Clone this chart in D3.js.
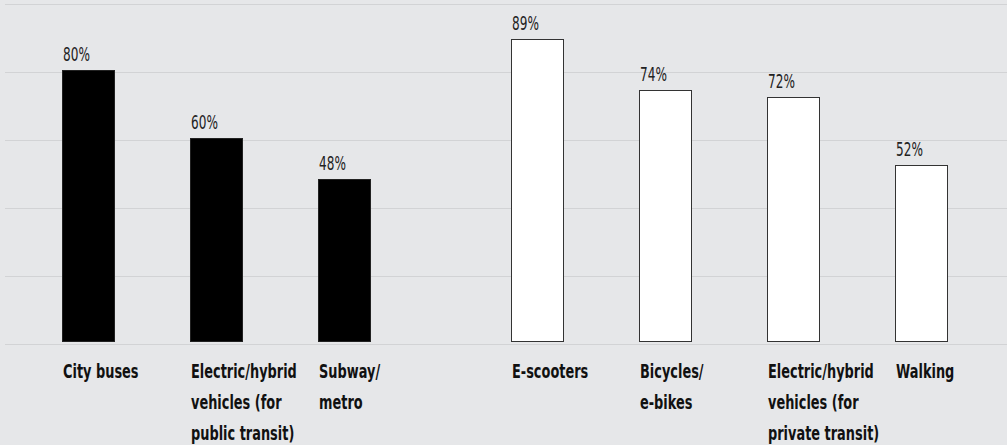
<!DOCTYPE html>
<html>
<head>
<meta charset="utf-8">
<script src="https://cdn.jsdelivr.net/npm/d3@7"></script>
<style>
  body { margin: 0; background: #e6e7e9; }
  svg { display: block; }
  .val { font-family: "DejaVu Sans", sans-serif; font-size: 19.5px; fill: #222; }
  .cat { font-family: "DejaVu Sans", sans-serif; font-size: 19px; font-weight: bold; fill: #111; }
</style>
</head>
<body>
<svg width="1007" height="445"></svg>
<script>
// share of respondents, by mode of transport
var categories = [
  ["City buses"],
  ["Electric/hybrid", "vehicles (for", "public transit)"],
  ["Subway/", "metro"],
  ["E-scooters"],
  ["Bicycles/", "e-bikes"],
  ["Electric/hybrid", "vehicles (for", "private transit)"],
  ["Walking"]
];
var values = [80, 60, 48, 89, 74, 72, 52];
var groups = ["public", "public", "public", "private", "private", "private", "private"];
var gridTicks = [0, 20, 40, 60, 80, 100];

var svg = d3.select("svg");
var width = +svg.attr("width");
var barW = 53;

var y = d3.scaleLinear().domain([0, 100]).range([342, 2]);

// slot index, with a half gap between the two groups
function slot(i) { return i + (groups[i] == "private" ? 0.5 : 0); }
var x = d3.scaleLinear().domain([0, 6.5]).range([62, 895]);

svg.append("rect")
    .attr("width", width).attr("height", 445)
    .attr("fill", "#e6e7e9");

svg.append("g").selectAll("line")
    .data(gridTicks)
    .enter().append("line")
    .attr("x1", 5).attr("x2", width)
    .attr("y1", function(d) { return Math.round(y(d)) + 2.5; })
    .attr("y2", function(d) { return Math.round(y(d)) + 2.5; })
    .attr("stroke", "#d2d3d5")
    .attr("stroke-width", 1);

var bar = svg.append("g").selectAll("g")
    .data(values)
    .enter().append("g")
    .attr("transform", function(d, i) { return "translate(" + Math.round(x(slot(i))) + ",0)"; });

bar.append("rect")
    .attr("x", 0.5)
    .attr("y", function(d) { return Math.round(y(d)) + 0.5; })
    .attr("width", barW - 1)
    .attr("height", function(d) { return Math.round(y(0)) - Math.round(y(d)) - 1; })
    .attr("fill", function(d, i) { return groups[i] == "public" ? "#000" : "#fff"; })
    .attr("stroke", function(d, i) { return groups[i] == "public" ? "#222" : "#333"; })
    .attr("stroke-width", 1);

// the original face is a condensed gothic, so squeeze the text horizontally
bar.append("text")
    .attr("class", "val")
    .attr("transform", function(d) { return "translate(1," + (y(d) - 9) + ") scale(0.62,1)"; })
    .text(function(d) { return d + "%"; });

bar.append("text")
    .attr("class", "cat")
    .attr("transform", "translate(1,378) scale(0.68,1)")
    .selectAll("tspan")
    .data(function(d, i) { return categories[i]; })
    .enter().append("tspan")
    .attr("x", 0)
    .attr("dy", function(d, j) { return j == 0 ? 0 : 31; })
    .text(function(d) { return d; });
</script>
</body>
</html>
